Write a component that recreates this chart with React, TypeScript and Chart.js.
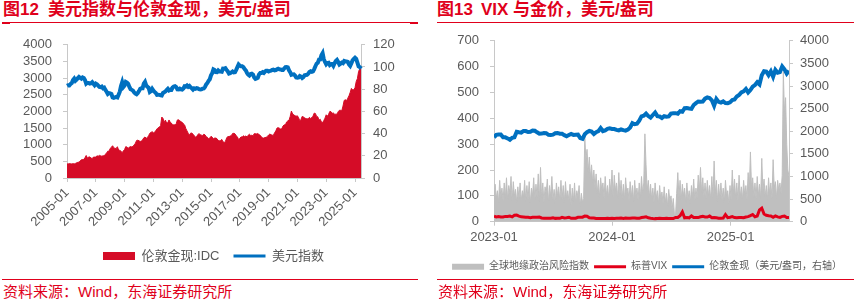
import React, { useEffect, useRef } from 'react';
import { Chart, registerables } from 'chart.js';

Chart.register(...registerables);

const FONT = '"Liberation Sans", "Noto Sans CJK SC", sans-serif';
const RED = '#E0001B';
const AREA_RED = '#D50C27';
const BLUE = '#0070C0';
const VIX_RED = '#E2001A';
const GRAY_AREA = '#BFBFBF';
const AXIS = '#C8C8C8';
const TEXT = '#595959';

// ---------- Left chart: monthly, 2005-01 .. 2025-06 ----------
const LEFT_START_YEAR = 2005;
const LEFT_END_YEAR = 2025;
const LEFT_END_MONTH = 6;
const LEFT_X_TICKS = ['2005-01', '2007-01', '2009-01', '2011-01', '2013-01', '2015-01', '2017-01', '2019-01', '2021-01', '2023-01', '2025-01'];

const GOLD_MONTHLY = [
  424, 423, 434, 429, 422, 431, 424, 438, 456, 470, 476, 510,
  549, 555, 557, 610, 676, 596, 633, 632, 598, 585, 627, 629,
  631, 665, 655, 679, 667, 655, 665, 665, 712, 754, 806, 803,
  889, 922, 968, 909, 888, 889, 939, 839, 829, 806, 760, 816,
  858, 943, 924, 890, 928, 945, 934, 949, 996, 1043, 1127, 1135,
  1118, 1095, 1113, 1148, 1205, 1232, 1193, 1215, 1271, 1343, 1370, 1391,
  1356, 1372, 1424, 1474, 1512, 1529, 1572, 1830, 1790, 1666, 1739, 1652,
  1656, 1743, 1675, 1649, 1591, 1598, 1594, 1630, 1744, 1747, 1721, 1688,
  1671, 1628, 1593, 1487, 1414, 1343, 1286, 1347, 1349, 1316, 1275, 1225,
  1244, 1300, 1336, 1299, 1287, 1279, 1311, 1296, 1239, 1222, 1176, 1200,
  1251, 1227, 1179, 1198, 1199, 1181, 1128, 1117, 1125, 1159, 1086, 1068,
  1097, 1199, 1246, 1242, 1260, 1276, 1337, 1341, 1326, 1267, 1236, 1152,
  1192, 1234, 1231, 1266, 1246, 1260, 1236, 1283, 1314, 1280, 1282, 1265,
  1331, 1331, 1325, 1335, 1303, 1282, 1238, 1201, 1198, 1215, 1221, 1250,
  1291, 1320, 1300, 1286, 1283, 1359, 1413, 1500, 1511, 1495, 1471, 1480,
  1560, 1597, 1592, 1683, 1715, 1732, 1847, 2010, 1921, 1900, 1866, 1858,
  1867, 1808, 1718, 1760, 1850, 1834, 1807, 1785, 1775, 1777, 1821, 1790,
  1817, 1856, 1948, 1937, 1849, 1837, 1733, 1765, 1681, 1664, 1726, 1798,
  1898, 1855, 1912, 1999, 1992, 1942, 1951, 1918, 1916, 1917, 1991, 2034,
  2033, 2023, 2159, 2330, 2350, 2326, 2397, 2470, 2571, 2690, 2651, 2648,
  2710, 2895, 2985, 3200, 3280, 3330,
];

const DXY_MONTHLY = [
  83.0, 83.6, 83.5, 84.7, 85.6, 88.3, 89.6, 87.6, 88.6, 89.9, 91.0, 90.2,
  89.5, 90.6, 90.1, 88.2, 85.0, 85.8, 85.6, 85.0, 85.4, 86.3, 84.9, 83.6,
  85.0, 84.4, 83.2, 82.0, 81.8, 82.4, 80.9, 81.4, 79.4, 77.7, 75.7, 76.5,
  76.3, 75.7, 72.6, 72.2, 72.6, 73.0, 72.6, 75.0, 77.7, 82.8, 86.2, 82.0,
  83.3, 86.6, 86.0, 84.9, 82.1, 80.0, 79.4, 78.7, 77.0, 76.1, 75.5, 76.6,
  78.3, 80.3, 80.8, 80.8, 85.1, 86.6, 83.4, 82.2, 81.3, 77.5, 78.3, 80.3,
  78.7, 77.6, 76.6, 74.9, 75.0, 74.9, 74.6, 74.4, 76.6, 77.3, 77.9, 79.3,
  80.4, 78.9, 79.4, 79.3, 81.5, 82.5, 82.8, 82.0, 79.8, 79.7, 80.5, 79.9,
  79.6, 80.6, 82.6, 82.4, 83.3, 82.2, 83.0, 81.7, 80.8, 79.7, 80.8, 80.4,
  80.9, 80.7, 80.0, 79.8, 79.9, 80.5, 80.7, 82.1, 84.3, 85.6, 87.6, 89.0,
  92.5, 94.4, 97.9, 97.3, 95.5, 95.4, 96.9, 95.9, 95.9, 95.7, 98.6, 98.5,
  98.9, 97.4, 96.0, 94.1, 94.4, 95.1, 96.0, 95.2, 95.3, 97.5, 99.9, 102.3,
  101.2, 100.6, 100.6, 99.9, 98.1, 96.9, 94.7, 93.2, 92.3, 93.6, 93.9, 93.2,
  90.6, 89.3, 89.8, 90.3, 93.3, 94.5, 94.5, 95.3, 94.7, 95.9, 96.7, 96.7,
  95.9, 96.4, 96.8, 97.3, 97.6, 96.9, 97.1, 97.9, 98.4, 97.9, 97.8, 97.4,
  97.4, 98.7, 99.9, 100.0, 99.6, 97.0, 95.3, 93.0, 93.3, 93.4, 92.4, 90.5,
  90.3, 90.6, 91.9, 91.4, 90.1, 90.9, 92.5, 92.8, 92.9, 93.9, 95.6, 96.2,
  95.7, 96.1, 98.1, 100.7, 103.0, 103.9, 106.7, 106.8, 110.6, 112.5, 107.0, 104.5,
  102.4, 103.6, 103.8, 101.8, 102.6, 102.8, 101.1, 103.4, 105.3, 106.3, 104.5, 102.3,
  103.1, 104.0, 103.5, 105.4, 105.0, 105.0, 104.6, 102.3, 101.0, 103.3, 106.1, 107.3,
  108.3, 107.3, 104.0, 100.5, 99.9, 98.5,
];

const LEFT_Y_TICKS = [0, 500, 1000, 1500, 2000, 2500, 3000, 3500, 4000];
const LEFT_Y1_TICKS = [0, 20, 40, 60, 80, 100, 120];

// ---------- Right chart: 2023-01-02 .. 2025-06-30 ----------
const GPR_STEP_DAYS = 3.5; // two readings per week
const WEEK_DAYS = 7;
const RIGHT_X_TICK_DAYS = [0, 364, 730];
const RIGHT_X_TICKS = ['2023-01', '2024-01', '2025-01'];

const GPR_INDEX = [
  80, 145, 90, 120, 75, 160, 95, 130, 80, 150,
  90, 170, 85, 140, 110, 175, 80, 155, 100, 125,
  75, 135, 90, 150, 80, 120, 95, 160, 80, 140,
  85, 155, 70, 130, 100, 170, 85, 145, 95, 185,
  80, 210, 90, 150, 75, 135, 110, 165, 75, 140,
  95, 175, 85, 125, 70, 150, 100, 135, 80, 160,
  85, 140, 75, 155, 90, 120, 80, 145, 65, 130,
  80, 150, 70, 120, 95, 140, 60, 110, 75, 90,
  330, 240, 280, 190, 250, 170, 220, 150, 200, 130,
  185, 110, 160, 95, 170, 120, 150, 90, 175, 100,
  140, 90, 165, 110, 200, 95, 180, 120, 150, 90,
  190, 105, 160, 90, 145, 85, 170, 110, 130, 80,
  155, 95, 140, 80, 160, 100, 130, 85, 150, 90,
  175, 110, 150, 340, 220, 120, 160, 95, 145, 85,
  130, 75, 150, 90, 120, 70, 140, 85, 115, 70,
  135, 75, 110, 60, 125, 80, 100, 50, 90, 30,
  25, 110, 190, 95, 160, 85, 145, 100, 130, 75,
  150, 85, 120, 70, 140, 95, 165, 80, 130, 90,
  180, 120, 210, 110, 170, 95, 150, 90, 160, 100,
  140, 85, 175, 95, 235, 110, 160, 80, 145, 90,
  150, 85, 130, 75, 160, 100, 120, 70, 140, 85,
  200, 110, 165, 90, 150, 80, 180, 95, 135, 85,
  160, 100, 140, 85, 190, 120, 270, 130, 170, 95,
  150, 90, 175, 100, 145, 90, 245, 120, 165, 95,
  140, 85, 170, 105, 150, 90, 240, 130, 155, 90,
  160, 120, 150, 110, 180, 580, 420, 480, 300, 200,
  175,
];

const VIX_WEEKLY = [
  21.1, 18.4, 19.9, 18.5, 18.3, 20.5, 20.0, 21.7, 18.5, 24.8, 25.5, 21.7, 18.7,
  18.4, 17.1, 16.8, 15.8, 17.0, 17.0, 16.8, 17.9, 14.6, 13.8, 13.5, 13.4, 13.6,
  14.8, 12.9, 13.6, 13.3, 17.1, 14.8, 15.7, 17.3, 13.1, 13.8, 13.8, 17.2, 17.3,
  17.5, 21.7, 21.3, 15.1, 14.2, 14.2, 12.5, 12.6, 12.1, 12.3, 12.3, 13.0, 12.5,
  13.4, 12.7, 13.3, 13.3, 13.9, 12.9, 14.2, 13.8, 13.4, 14.7, 14.4, 13.1, 13.0,
  16.0, 17.3, 18.7, 15.0, 13.5, 12.6, 11.9, 12.0, 12.9, 12.2, 12.7, 13.2, 12.5,
  12.4, 12.4, 16.5, 16.4, 23.4, 38.0, 14.8, 15.9, 15.0, 22.4, 16.6, 16.2, 15.9,
  19.2, 20.5, 18.0, 18.0, 21.9, 15.2, 16.1, 15.2, 13.5, 13.0, 13.8, 27.6, 15.9, 17.4,
  19.5, 16.0, 14.9, 16.4, 16.5, 15.4, 18.2, 19.6, 23.4, 27.9, 19.3, 21.7, 45.3,
  52.3, 29.7, 24.8, 22.7, 21.9, 17.2, 22.3, 18.6, 16.8, 20.8, 22.2, 16.3, 16.6,
];

const GOLD_WEEKLY = [
  1866, 1920, 1926, 1928, 1865, 1865, 1842, 1811, 1856, 1868, 1989, 1978, 1969,
  2007, 2004, 1983, 1990, 2017, 2011, 1977, 1946, 1948, 1961, 1958, 1921, 1919,
  1925, 1955, 1962, 1945, 1943, 1914, 1889, 1915, 1940, 1919, 1924, 1925, 1848,
  1833, 1933, 1981, 2006, 1992, 1940, 1981, 2002, 2071, 2004, 2019, 2053, 2063,
  2049, 2049, 2029, 2018, 2039, 2024, 2013, 2035, 2083, 2179, 2156, 2165, 2233,
  2329, 2344, 2391, 2337, 2301, 2360, 2414, 2334, 2327, 2294, 2333, 2322, 2327,
  2392, 2400, 2400, 2387, 2443, 2431, 2508, 2512, 2503, 2497, 2580, 2622, 2658,
  2653, 2656, 2720, 2747, 2736, 2684, 2562, 2715, 2650, 2633, 2660, 2622, 2620, 2640,
  2690, 2702, 2770, 2800, 2860, 2883, 2935, 2858, 2910, 2984, 3022, 3084, 3037,
  3237, 3327, 3319, 3241, 3325, 3205, 3357, 3295, 3310, 3432, 3368, 3274, 3337,
];

const RIGHT_Y_TICKS = [0, 100, 200, 300, 400, 500, 600, 700];
const RIGHT_Y1_TICKS = [0, 500, 1000, 1500, 2000, 2500, 3000, 3500, 4000];

function buildMonths(): string[] {
  const out: string[] = [];
  for (let y = LEFT_START_YEAR; y <= LEFT_END_YEAR; y++) {
    const last = y === LEFT_END_YEAR ? LEFT_END_MONTH : 12;
    for (let m = 1; m <= last; m++) out.push(`${y}-${m < 10 ? '0' : ''}${m}`);
  }
  return out;
}

const tickFont = { family: FONT, size: 13 };

function axisGrid() {
  return { display: true, drawOnChartArea: false, drawTicks: true, tickLength: 4, color: AXIS, lineWidth: 1 };
}
function axisBorder() {
  return { display: true, color: AXIS, width: 1 };
}

function yAxis(position: 'left' | 'right', max: number, tickValues: number[], width: number, padding: number) {
  return {
    position,
    min: 0,
    max,
    grid: axisGrid(),
    border: axisBorder(),
    afterFit: (s: any) => { s.width = width; },
    afterBuildTicks: (s: any) => { s.ticks = tickValues.map((v) => ({ value: v })); },
    ticks: { autoSkip: false, padding, color: TEXT, font: tickFont, callback: (v: any) => String(v) },
  };
}

function legendLabels(fontSize: number, boxHeight: number, padding: number, width: number) {
  return {
    font: { family: FONT, size: fontSize },
    color: TEXT,
    usePointStyle: true,
    pointStyleWidth: width,
    boxHeight,
    padding,
    sort: (a: any, b: any) => a.datasetIndex - b.datasetIndex,
    generateLabels: (chart: any) => {
      const items = Chart.defaults.plugins.legend.labels.generateLabels(chart);
      return items.map((it: any) => {
        const ds = chart.data.datasets[it.datasetIndex];
        const isArea = !!ds.fill;
        return {
          ...it,
          pointStyle: isArea ? 'rect' : 'line',
          fillStyle: isArea ? ds.backgroundColor : ds.borderColor,
          strokeStyle: ds.borderColor,
          lineWidth: isArea ? 0 : 3,
        };
      });
    },
  };
}

export default function App() {
  const leftRef = useRef<HTMLCanvasElement>(null);
  const rightRef = useRef<HTMLCanvasElement>(null);

  useEffect(() => {
    const months = buildMonths();
    const left = new Chart(leftRef.current!, {
      type: 'line',
      data: {
        labels: months,
        datasets: [
          {
            label: '伦敦金现:IDC',
            data: GOLD_MONTHLY,
            yAxisID: 'y',
            fill: 'origin',
            backgroundColor: AREA_RED,
            borderColor: AREA_RED,
            borderWidth: 1,
            pointRadius: 0,
            tension: 0,
            order: 2,
          },
          {
            label: '美元指数',
            data: DXY_MONTHLY,
            yAxisID: 'y1',
            fill: false,
            borderColor: BLUE,
            backgroundColor: BLUE,
            borderWidth: 4,
            pointRadius: 0,
            tension: 0,
            order: 1,
          },
        ],
      },
      options: {
        responsive: false,
        animation: false,
        layout: { padding: { top: 17, left: 0, right: 0, bottom: 3.5 } },
        plugins: {
          legend: { position: 'bottom', labels: legendLabels(13, 8, 14, 32) as any },
          tooltip: { enabled: false },
        },
        scales: {
          x: {
            type: 'category',
            offset: false,
            grid: axisGrid(),
            border: axisBorder(),
            afterFit: (s: any) => { s.height = 57.5; },
            ticks: {
              autoSkip: false,
              minRotation: 45,
              maxRotation: 45,
              padding: 3,
              color: TEXT,
              font: tickFont,
              callback: (_v: any, i: number) => (LEFT_X_TICKS.includes(months[i]) ? months[i] : null),
            },
          },
          y: yAxis('left', 4000, LEFT_Y_TICKS, 67, 11),
          y1: yAxis('right', 120, LEFT_Y1_TICKS, 66, 8),
        } as any,
      },
    });

    const right = new Chart(rightRef.current!, {
      type: 'line',
      data: {
        datasets: [
          {
            label: '全球地缘政治风险指数',
            data: GPR_INDEX.map((v, i) => ({ x: i * GPR_STEP_DAYS, y: v })),
            yAxisID: 'y',
            fill: 'origin',
            backgroundColor: GRAY_AREA,
            borderColor: GRAY_AREA,
            borderWidth: 1,
            pointRadius: 0,
            tension: 0,
            order: 3,
          },
          {
            label: '标普VIX',
            data: VIX_WEEKLY.map((v, i) => ({ x: i * WEEK_DAYS, y: v })),
            yAxisID: 'y',
            fill: false,
            borderColor: VIX_RED,
            backgroundColor: VIX_RED,
            borderWidth: 3,
            pointRadius: 0,
            tension: 0,
            order: 2,
          },
          {
            label: '伦敦金现（美元/盎司，右轴）',
            data: GOLD_WEEKLY.map((v, i) => ({ x: i * WEEK_DAYS, y: v })),
            yAxisID: 'y1',
            fill: false,
            borderColor: BLUE,
            backgroundColor: BLUE,
            borderWidth: 4,
            pointRadius: 0,
            tension: 0,
            order: 1,
          },
        ],
      },
      options: {
        responsive: false,
        animation: false,
        layout: { padding: { top: 10.7, left: 13, right: 0, bottom: 2.3 } },
        plugins: {
          legend: { position: 'bottom', labels: legendLabels(10, 6, 5, 32) as any },
          tooltip: { enabled: false },
        },
        scales: {
          x: {
            type: 'linear',
            min: 0,
            max: (GOLD_WEEKLY.length - 1) * WEEK_DAYS,
            grid: axisGrid(),
            border: axisBorder(),
            afterFit: (s: any) => { s.height = 35; },
            afterBuildTicks: (s: any) => { s.ticks = RIGHT_X_TICK_DAYS.map((v) => ({ value: v })); },
            ticks: {
              autoSkip: false,
              maxRotation: 0,
              minRotation: 0,
              padding: 4,
              color: TEXT,
              font: tickFont,
              callback: (v: any) => RIGHT_X_TICKS[RIGHT_X_TICK_DAYS.indexOf(v)] ?? null,
            },
          },
          y: yAxis('left', 700, RIGHT_Y_TICKS, 54, 11),
          y1: yAxis('right', 4000, RIGHT_Y1_TICKS, 65, 7),
        } as any,
      },
    });

    return () => {
      left.destroy();
      right.destroy();
    };
  }, []);

  const abs = (s: React.CSSProperties): React.CSSProperties => ({ position: 'absolute', ...s });
  const titleStyle: React.CSSProperties = { fontSize: 17, fontWeight: 700, color: RED, lineHeight: '20px', whiteSpace: 'nowrap' };
  const srcStyle: React.CSSProperties = { fontSize: 15, color: RED, lineHeight: '18px', whiteSpace: 'nowrap' };

  return (
    <div style={{ position: 'fixed', left: 0, top: 0, width: 854, height: 304, background: '#fff', fontFamily: FONT, overflow: 'hidden' }}>
      <div style={abs({ left: 3, top: 0, ...titleStyle })}>
        <span>图12</span>
        <span style={{ marginLeft: 9 }}>美元指数与伦敦金现，美元/盎司</span>
      </div>
      <div style={abs({ left: 2, top: 22, width: 416, height: 1, background: RED })} />
      <div style={abs({ left: 2, top: 22, width: 8, height: 2, background: RED })} />
      <div style={abs({ left: 410, top: 22, width: 8, height: 2, background: RED })} />

      <div style={abs({ left: 437, top: 0, ...titleStyle })}>
        <span>图13</span>
        <span style={{ marginLeft: 8 }}>VIX 与金价，美元/盎司</span>
      </div>
      <div style={abs({ left: 437, top: 22, width: 417, height: 1, background: RED })} />

      <canvas ref={leftRef} width={427} height={250} style={abs({ left: 0, top: 26, width: 427, height: 250, display: 'block' })} />
      <canvas ref={rightRef} width={427} height={262} style={abs({ left: 427, top: 22, width: 427, height: 262, display: 'block' })} />

      <div style={abs({ left: 2, top: 279, width: 416, height: 1, background: RED })} />
      <div style={abs({ left: 3, top: 283, ...srcStyle })}>资料来源：Wind，东海证券研究所</div>
      <div style={abs({ left: 437, top: 279, width: 417, height: 1, background: RED })} />
      <div style={abs({ left: 438, top: 283, ...srcStyle })}>资料来源：Wind，东海证券研究所</div>
    </div>
  );
}
